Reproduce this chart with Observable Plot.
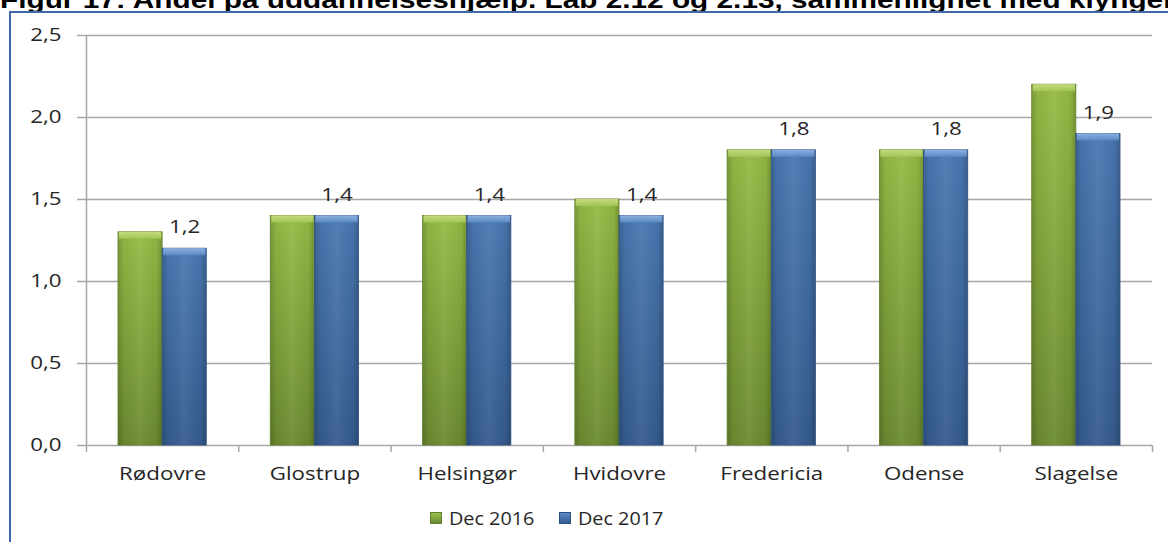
<!DOCTYPE html>
<html><head><meta charset="utf-8">
<script src="https://cdn.jsdelivr.net/npm/d3@7"></script>
<script src="https://cdn.jsdelivr.net/npm/@observablehq/plot@0.6"></script>
<style>
html,body{margin:0;padding:0;background:#fff;overflow:hidden}
body{width:1168px;height:542px;position:relative}
#title{position:absolute;left:0;top:-12px;font:bold 24px "Liberation Sans",Arial,sans-serif;line-height:24px;white-space:nowrap;transform:scaleX(1.24);transform-origin:0 0;color:#000}
#frame{position:absolute;left:9px;top:11px;width:1170px;height:540px;border-left:2px solid #3f6aa6;border-top:2px solid #3f6aa6}
#chart svg{display:block}
.lg{position:absolute;top:506px;height:24px;display:flex;align-items:center;font:18px "Open Sans",sans-serif;color:#262626;white-space:nowrap}
.sw{width:12px;height:12px;border:1px solid;margin-right:7px;box-sizing:border-box}
.lt{display:inline-block;transform:scaleX(1.1);transform-origin:0 50%}
</style></head>
<body>
<div id="title">Figur 17: Andel på uddannelseshjælp. Lab 2.12 og 2.13, sammenlignet med klyngen</div>
<div id="frame"><div id="chart"></div></div>
<div id="legend"></div>
<script>
const categories = ["Rødovre","Glostrup","Helsingør","Hvidovre","Fredericia","Odense","Slagelse"];
const dec2016 = [1.3, 1.4, 1.4, 1.5, 1.8, 1.8, 2.2];
const dec2017 = [1.2, 1.4, 1.4, 1.4, 1.8, 1.8, 1.9];
const seriesNames = ["Dec 2016", "Dec 2017"];
const yTicks = [0, 0.5, 1, 1.5, 2, 2.5];

const rows = categories.map((c, i) => ({i, c, v16: dec2016[i], v17: dec2017[i]}));
const boundaries = d3.range(categories.length + 1);
const fmt = v => v.toFixed(1).replace(".", ",");
const grey = "#a6a6a6";

const g1 = d => d.i + 0.21, g2 = d => d.i + 0.5, b2 = d => d.i + 0.79;

const plot = Plot.plot({
  width: 1157, height: 477,
  marginLeft: 75, marginRight: 16, marginTop: 22, marginBottom: 45,
  x: {type: "linear", domain: [0, categories.length]},
  y: {domain: [0, 2.5]},
  style: {fontFamily: "'Open Sans', sans-serif", fontSize: "18px", color: "#262626", background: "transparent"},
  marks: [
    Plot.gridY(yTicks, {stroke: grey, strokeOpacity: 1, strokeWidth: 1.5}),
    Plot.axisY({ticks: yTicks, tickSize: 9, tickPadding: 16, tickFormat: fmt, stroke: grey, strokeWidth: 1.5, fill: "#262626", label: null}),
    Plot.ruleX([0], {y1: 0, y2: 2.5, stroke: grey, strokeWidth: 1.5}),
    Plot.axisX({ticks: boundaries, tickSize: 7, tickFormat: () => "", stroke: grey, strokeWidth: 1.5, label: null}),
    Plot.axisX({ticks: rows.map(d => d.i + 0.5), tickSize: 0, tickPadding: 22, tickFormat: t => categories[Math.floor(t)], fill: "#262626", label: null}),
    Plot.rectY(rows, {x1: g1, x2: g2, y: "v16", fill: "url(#gGreen)", stroke: "#5f7d2a", strokeWidth: 0.8}),
    Plot.rectY(rows, {x1: g2, x2: b2, y: "v17", fill: "url(#gBlue)", stroke: "#2e5282", strokeWidth: 0.8}),
    Plot.rectY(rows, {x1: g1, x2: g2, y: "v16", fill: "url(#shadeH)", insetLeft: 0.5, insetRight: 0.5}),
    Plot.rectY(rows, {x1: g2, x2: b2, y: "v17", fill: "url(#shadeH)", insetLeft: 0.5, insetRight: 0.5}),
    Plot.rectY(rows, {x1: g1, x2: g2, y1: "v16", y2: "v16", insetBottom: -7, insetLeft: 1, insetRight: 1, fill: "url(#topG)"}),
    Plot.rectY(rows, {x1: g2, x2: b2, y1: "v17", y2: "v17", insetBottom: -7, insetLeft: 1, insetRight: 1, fill: "url(#topB)"}),
    Plot.text(rows, {x: d => d.i + 0.645, y: "v17", text: d => fmt(d.v17), dy: -21, fontSize: 18, fill: "#262626"})
  ]
});
document.getElementById("chart").appendChild(plot);

const svg = d3.select(plot);
const defs = svg.insert("defs", ":first-child");
function lin(id, horiz, stops) {
  const g = defs.append("linearGradient").attr("id", id)
    .attr("x1", 0).attr("y1", 0).attr("x2", horiz ? 1 : 0).attr("y2", horiz ? 0 : 1);
  stops.forEach(([o, c, op]) => g.append("stop").attr("offset", o).attr("stop-color", c).attr("stop-opacity", op == null ? 1 : op));
}
lin("gGreen", false, [[0, "#95bb45"], [1, "#6b8b31"]]);
lin("gBlue", false, [[0, "#4a78b2"], [1, "#355c8f"]]);
lin("shadeH", true, [[0, "#000", 0.18], [0.12, "#000", 0.04], [0.5, "#fff", 0.06], [0.88, "#000", 0.04], [1, "#000", 0.2]]);
lin("topG", false, [[0, "#c4dc7c"], [1, "#a2c457"]]);
lin("topB", false, [[0, "#8cb0e0"], [1, "#5b88c4"]]);

// horizontally stretch the glyphs as in the reference
plot.querySelectorAll("text").forEach(t => {
  const L = t.getComputedTextLength();
  if (L > 0) { t.setAttribute("textLength", (L * 1.24).toFixed(1)); t.setAttribute("lengthAdjust", "spacingAndGlyphs"); }
});

const legendColors = [["url(#gGreen)", "#9bc24d", "#6b8b31", "#5f7d2a"], ["", "#5b8ac4", "#355c8f", "#2e5282"]];
const lefts = [430, 559];
const legend = document.getElementById("legend");
seriesNames.forEach((name, k) => {
  const [, c1, c2, bc] = legendColors[k];
  const item = document.createElement("div");
  item.className = "lg";
  item.style.left = lefts[k] + "px";
  item.innerHTML = `<span class="sw" style="background:linear-gradient(${c1},${c2});border-color:${bc}"></span><span class="lt">${name}</span>`;
  legend.appendChild(item);
});
</script>
</body></html>
